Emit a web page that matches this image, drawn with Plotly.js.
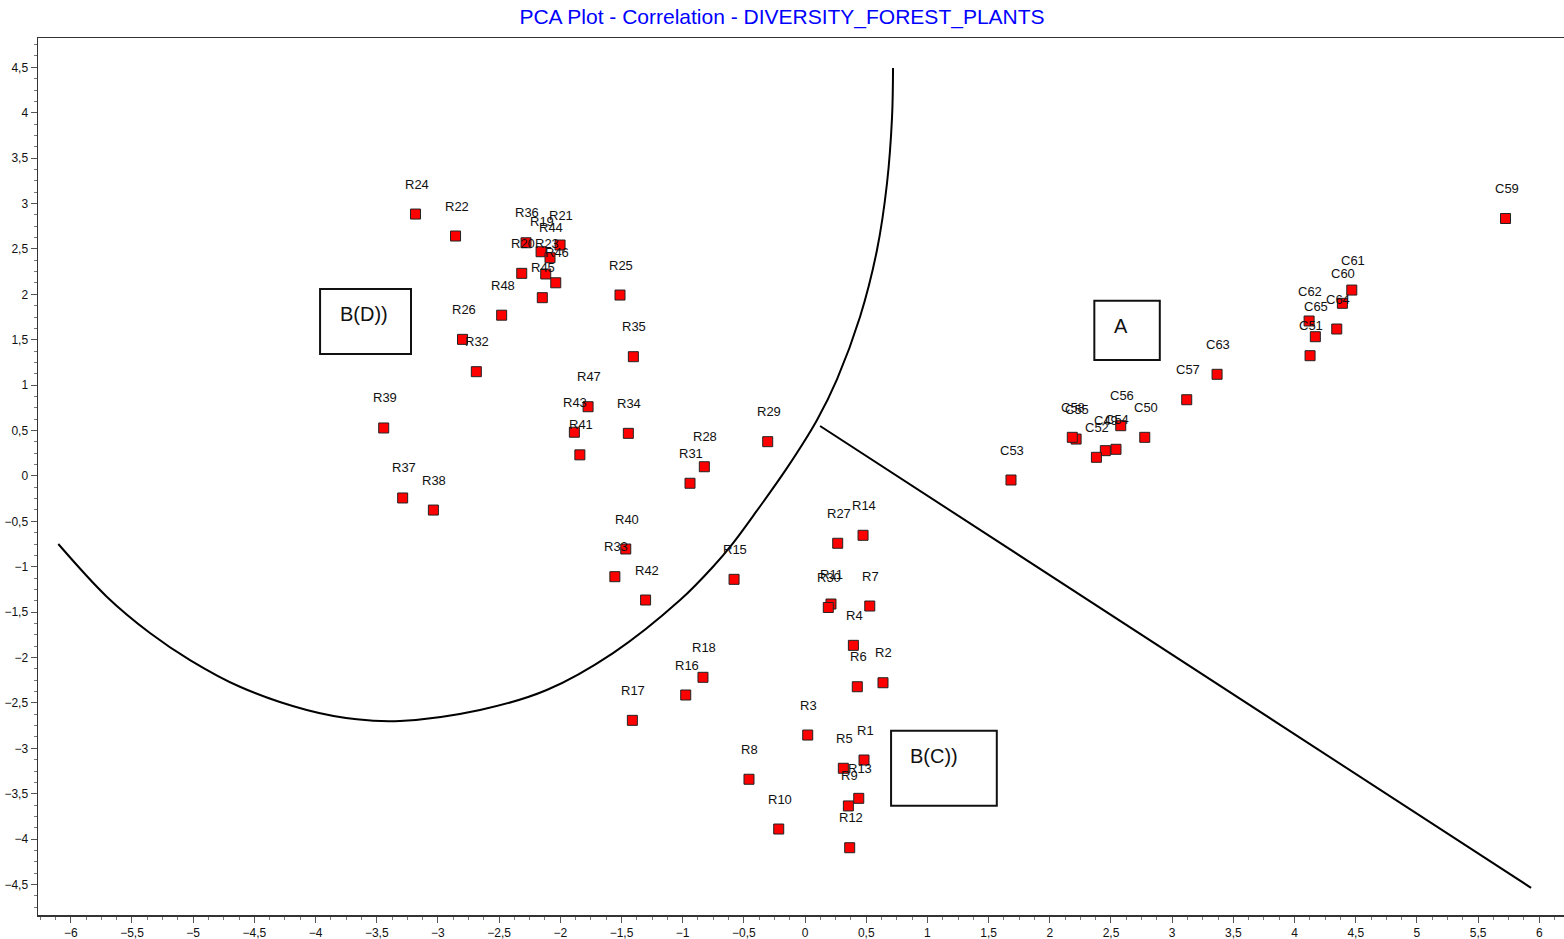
<!DOCTYPE html>
<html>
<head>
<meta charset="utf-8">
<script src="https://cdn.plot.ly/plotly-3.0.1.min.js"></script>
<style>
html,body{margin:0;padding:0;background:#fff;}
#chart{width:1564px;height:939px;}
</style>
</head>
<body>
<div id="chart"></div>
<script>
// Observation labels
var pointLabels = ["R1","R2","R3","R4","R5","R6","R7","R8","R9","R10",
  "R11","R12","R13","R14","R15","R16","R17","R18","R19","R20",
  "R21","R22","R23","R24","R25","R26","R27","R28","R29","R30",
  "R31","R32","R33","R34","R35","R36","R37","R38","R39","R40",
  "R41","R42","R43","R44","R45","R46","R47","R48",
  "C49","C50","C51","C52","C53","C54","C55","C56","C57","C58",
  "C59","C60","C61","C62","C63","C64","C65"];
// PC1 scores
var pc1 = [0.482,0.637,0.022,0.395,0.313,0.427,0.529,-0.458,0.354,-0.215,
  0.212,0.365,0.439,0.474,-0.580,-0.975,-1.411,-0.834,-2.157,-2.315,
  -2.002,-2.856,-2.119,-3.183,-1.512,-2.799,0.267,-0.823,-0.305,0.190,
  -0.940,-2.686,-1.554,-1.444,-1.403,-2.280,-3.288,-3.037,-3.443,-1.465,
  -1.840,-1.303,-1.885,-2.084,-2.147,-2.037,-1.773,-2.479,
  2.454,2.776,4.127,2.381,1.683,2.541,2.215,2.580,3.119,2.184,
  5.724,4.391,4.468,4.119,3.367,4.345,4.170];
// PC2 scores
var pc2 = [-3.129,-2.278,-2.854,-1.866,-3.220,-2.322,-1.433,-3.341,-3.635,-3.889,
  -1.411,-4.095,-3.551,-0.654,-1.139,-2.413,-2.692,-2.218,2.469,2.231,
  2.543,2.642,2.224,2.884,1.992,1.504,-0.742,0.101,0.377,-1.449,
  -0.081,1.148,-1.110,0.469,1.313,2.568,-0.243,-0.376,0.528,-0.805,
  0.232,-1.367,0.481,2.403,1.963,2.127,0.762,1.770,
  0.278,0.425,1.324,0.205,-0.045,0.293,0.406,0.553,0.839,0.425,
  2.835,1.901,2.047,1.706,1.119,1.618,1.533];

// Hand-drawn group boundary (arc) in data units
var arcX = [-6.102,-5.706,-5.353,-5.026,-4.618,-4.072,-3.663,-3.310,-2.656,
  -2.111,-1.569,-1.021,-0.752,-0.588,-0.425,-0.147,0.098,0.262,
  0.449,0.588,0.670,0.711,0.719];
var arcY = [-0.750,-1.330,-1.730,-2.028,-2.322,-2.578,-2.681,-2.699,-2.578,
  -2.358,-1.951,-1.367,-1.000,-0.739,-0.442,0.088,0.616,1.067,
  1.750,2.488,3.226,3.953,4.492];
// Straight separator line
var sepX = [0.123, 5.933];
var sepY = [0.550, -4.537];

// Group boxes
var boxText = ["B(D))", "A", "B(C))"];
var boxX0 = [-3.963, 2.364, 0.703];
var boxX1 = [-3.220, 2.899, 1.567];
var boxY0 = [1.343, 1.277, -3.632];
var boxY1 = [2.058, 1.930, -2.806];
var boxTextX = [-3.604, 2.580, 1.057];
var boxTextY = [1.783, 1.651, -3.081];

var traces = [
  {x: arcX, y: arcY, type: 'scatter', mode: 'lines',
   line: {color: '#000', width: 2, shape: 'spline', smoothing: 1}, hoverinfo: 'skip', showlegend: false},
  {x: sepX, y: sepY, type: 'scatter', mode: 'lines',
   line: {color: '#000', width: 2}, hoverinfo: 'skip', showlegend: false},
  {x: pc1, y: pc2, text: pointLabels, type: 'scatter', mode: 'markers',
   marker: {symbol: 'square', size: 10, color: '#ff0000', line: {color: '#222', width: 1}},
   hoverinfo: 'text', showlegend: false}
];

var annotations = [];
for (var i = 0; i < pointLabels.length; i++) {
  annotations.push({x: pc1[i], y: pc2[i], xref: 'x', yref: 'y', text: pointLabels[i],
    showarrow: false, yshift: 30, xshift: 1,
    font: {family: 'Liberation Sans, Arial, sans-serif', size: 13, color: '#111'}});
}
var shapes = [];
for (var j = 0; j < boxText.length; j++) {
  shapes.push({type: 'rect', xref: 'x', yref: 'y', x0: boxX0[j], x1: boxX1[j], y0: boxY0[j], y1: boxY1[j],
    line: {color: '#111', width: 2}, fillcolor: 'rgba(0,0,0,0)'});
  annotations.push({x: boxTextX[j], y: boxTextY[j], xref: 'x', yref: 'y', text: boxText[j],
    showarrow: false, font: {family: 'Liberation Sans, Arial, sans-serif', size: 20, color: '#111'}});
}

var tickFont = {family: 'Liberation Sans, Arial, sans-serif', size: 12, color: '#111'};
var layout = {
  width: 1564, height: 939,
  paper_bgcolor: '#fff', plot_bgcolor: '#fff',
  separators: ', ',
  margin: {l: 38, r: 0, t: 38, b: 24, pad: 0},
  title: {text: 'PCA Plot - Correlation - DIVERSITY_FOREST_PLANTS', xref: 'container', x: 0.5,
    y: 0.982, yref: 'container', yanchor: 'middle',
    font: {family: 'Liberation Sans, Arial, sans-serif', size: 21, color: '#0000ff'}},
  xaxis: {range: [-6.268, 6.202], dtick: 0.5, tick0: 0, showgrid: false, zeroline: false,
    showline: true, mirror: true, linecolor: '#333', linewidth: 1.5,
    ticks: 'outside', ticklen: 6, tickcolor: '#555', tickwidth: 1, tickfont: tickFont,
    minor: {dtick: 0.125, ticks: 'outside', ticklen: 3, tickcolor: '#777', showgrid: false},
    automargin: false, fixedrange: true},
  yaxis: {range: [-4.836, 4.823], dtick: 0.5, tick0: 0, showgrid: false, zeroline: false,
    showline: true, linecolor: '#333', linewidth: 1.5,
    ticks: 'outside', ticklen: 6, tickcolor: '#555', tickwidth: 1, tickfont: tickFont,
    minor: {dtick: 0.125, ticks: 'outside', ticklen: 3, tickcolor: '#777', showgrid: false},
    automargin: false, fixedrange: true},
  shapes: shapes,
  annotations: annotations,
  showlegend: false
};
Plotly.newPlot('chart', traces, layout, {displayModeBar: false, staticPlot: true});
</script>
</body>
</html>
